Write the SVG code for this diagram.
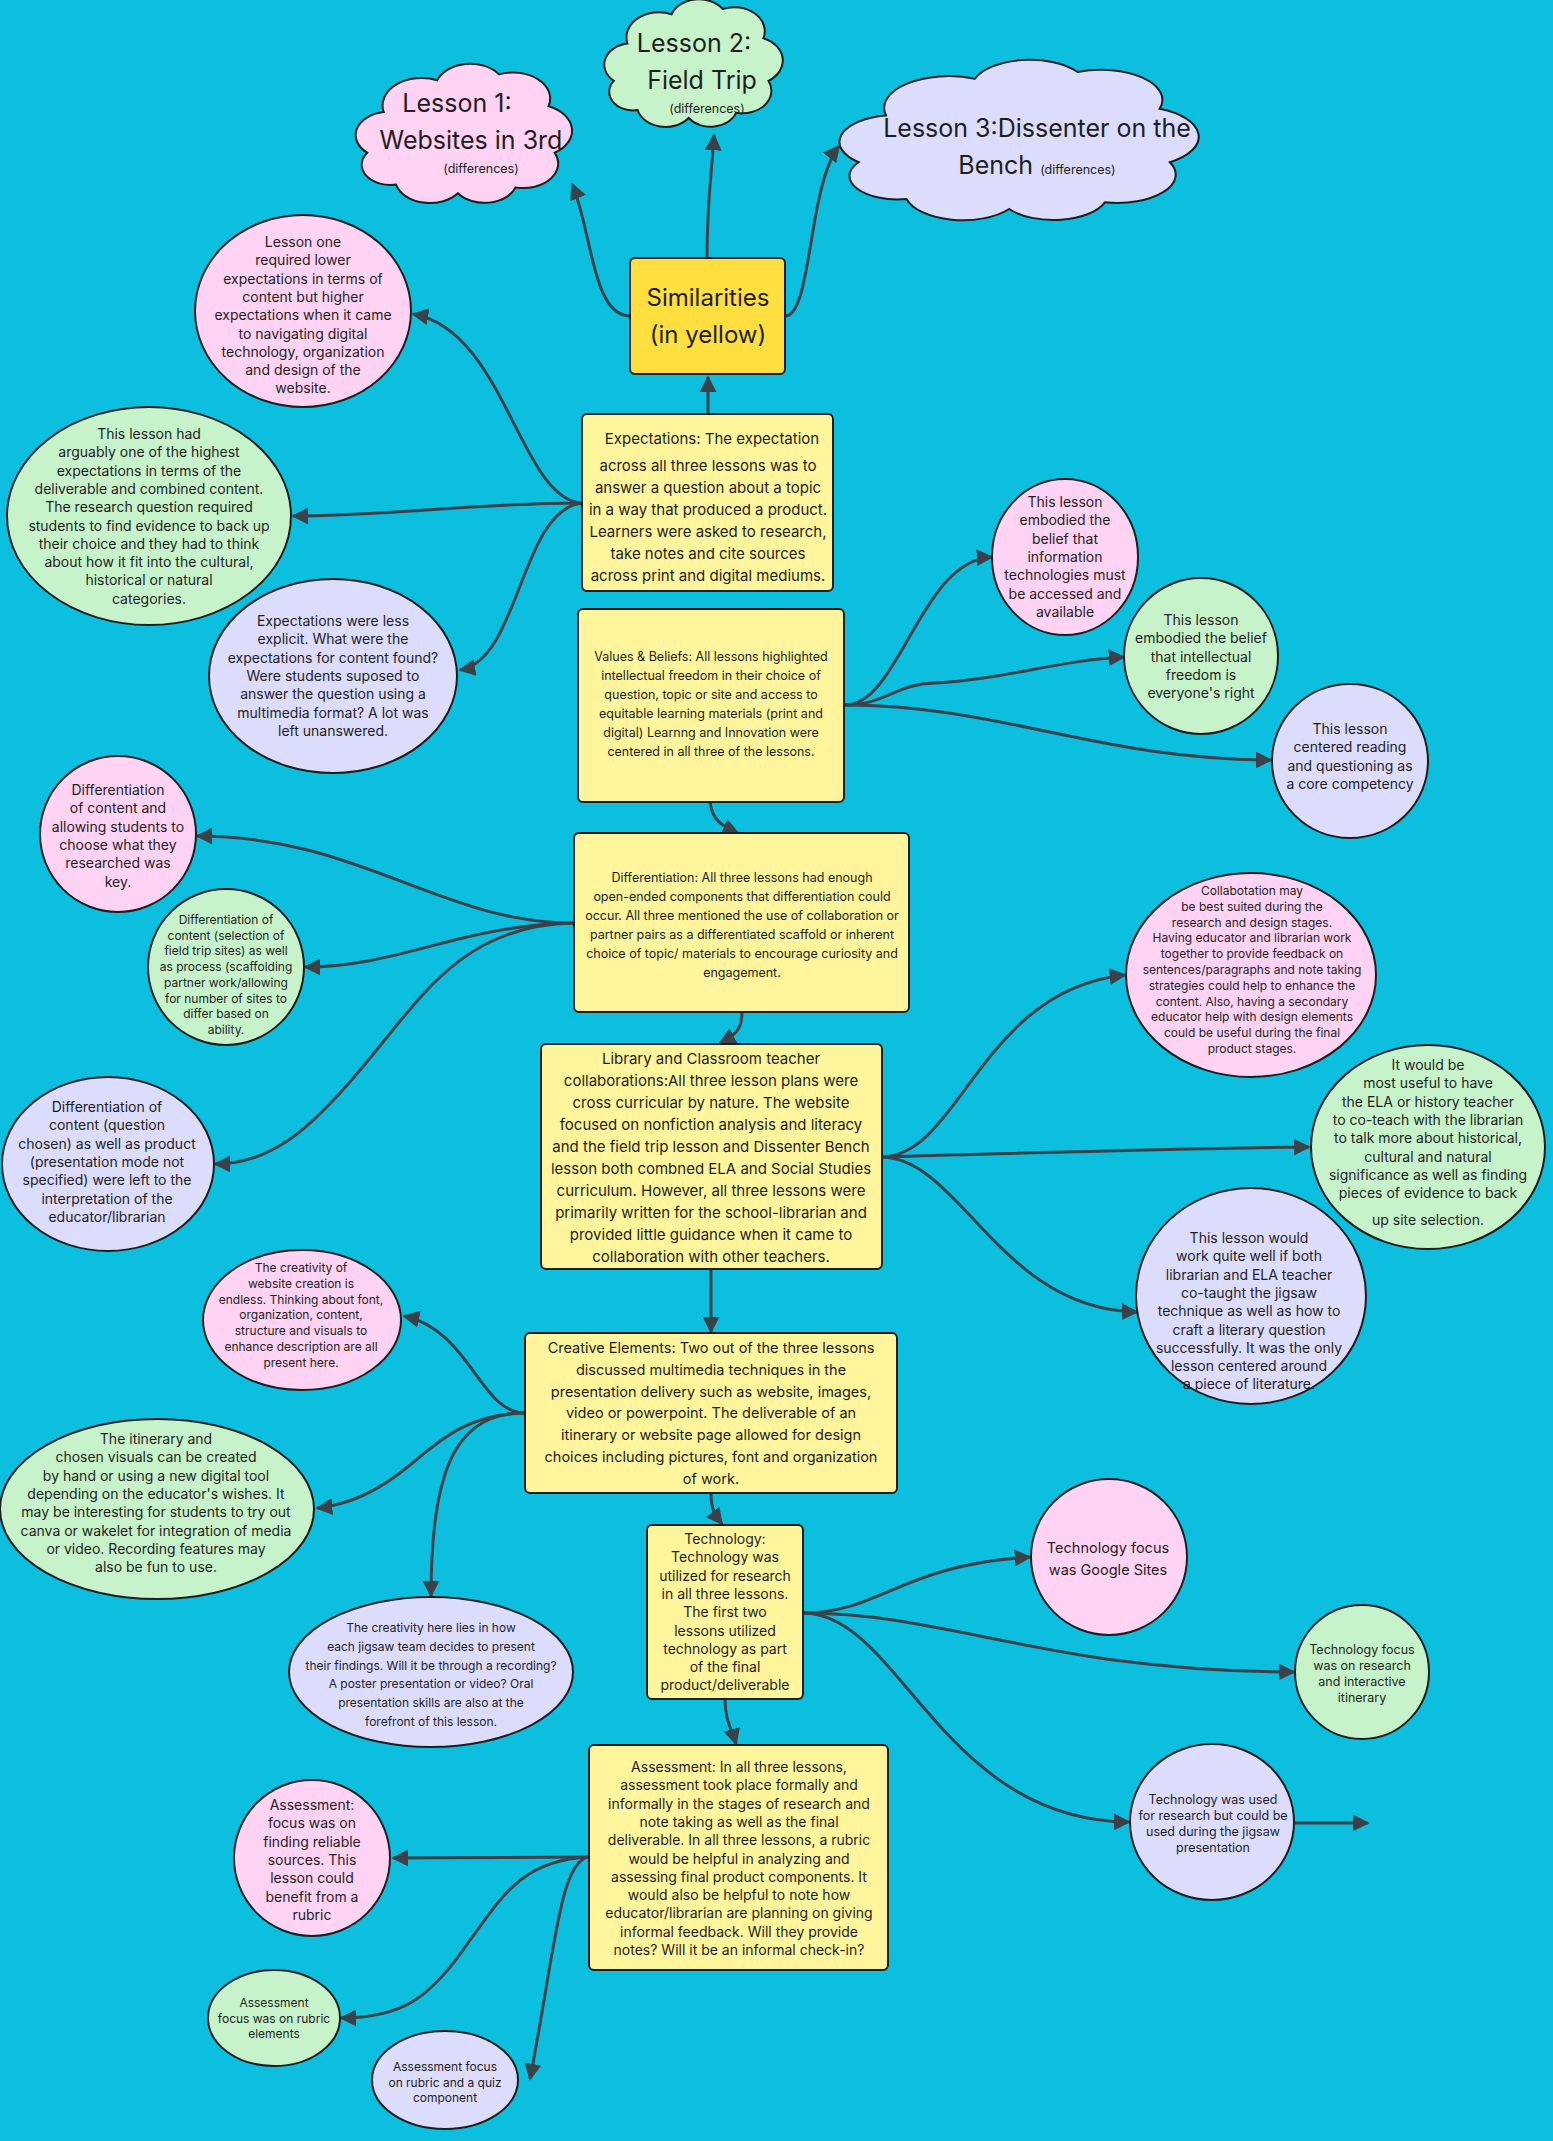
<svg xmlns="http://www.w3.org/2000/svg" xmlns:xlink="http://www.w3.org/1999/xlink" width="1553" height="2141" viewBox="0 0 1553 2141">
<style>
text{font-family:Inter,"Liberation Sans",Arial,sans-serif;fill:#1e1e1e;text-anchor:middle}
.box{fill:#FFF59D;stroke:#1e1e1e;stroke-width:2}
.sim{fill:#FFDF3F;stroke:#1e1e1e;stroke-width:2}
.pk{fill:#FFD3F3;stroke:#1e1e1e;stroke-width:2}
.gr{fill:#C6F3CA;stroke:#1e1e1e;stroke-width:2}
.lv{fill:#DCDCFD;stroke:#1e1e1e;stroke-width:2}
.c{fill:none;stroke:#3A4148;stroke-width:3;marker-end:url(#ah)}
.t25{font-size:25px}.t24{font-size:24px}.t15{font-size:15px}.t145{font-size:14.5px}.t14{font-size:14px}.t125{font-size:12.5px}.t12{font-size:12px}.t11{font-size:12.5px}
</style>
<defs>
<marker id="ah" viewBox="0 0 10 10" refX="9" refY="5" markerWidth="17" markerHeight="17" markerUnits="userSpaceOnUse" orient="auto"><path d="M0,0 L10,5 L0,10 Z" fill="#3A4148"/></marker>
<path id="cloud" vector-effect="non-scaling-stroke" d="M18,88 A14,14 0 0 1 4,66 A16,16 0 0 1 12,38 A19,19 0 0 1 38,16 A17,17 0 0 1 68,12 A18,18 0 0 1 92,34 A18,18 0 0 1 95,66 A17,17 0 0 1 76,90 A16,16 0 0 1 48,94 A17,17 0 0 1 18,88 Z"/>
</defs>
<rect width="1553" height="2141" fill="#0CBFDF"/>

<g id="connectors">
<path class="c" d="M630,316 C592,316 592,230 572,184"/>
<path class="c" d="M707,258 C707,200 712,170 714,135"/>
<path class="c" d="M785,316 C812,316 808,185 839,146"/>
<path class="c" d="M708,414 L708,377"/>
<path class="c" d="M582,503 C520,500 505,330 413,314"/>
<path class="c" d="M582,503 C480,503 380,516 293,516"/>
<path class="c" d="M582,503 C520,510 520,660 460,670"/>
<path class="c" d="M845,705 C900,705 920,560 992,557"/>
<path class="c" d="M845,705 C885,705 895,684 935,683 C1000,680 1060,660 1124,657"/>
<path class="c" d="M845,705 C1000,705 1100,760 1271,760"/>
<path class="c" d="M710,802 C712,820 722,826 738,833"/>
<path class="c" d="M574,923 C440,923 360,836 197,836"/>
<path class="c" d="M574,923 C460,925 400,967 305,967"/>
<path class="c" d="M574,923 C460,925 420,1000 360,1070 C310,1130 270,1164 215,1164"/>
<path class="c" d="M742,1012 C742,1030 735,1035 720,1043"/>
<path class="c" d="M881,1157 C960,1157 980,990 1125,975"/>
<path class="c" d="M881,1157 C1000,1154 1150,1149 1309,1147"/>
<path class="c" d="M881,1157 C960,1157 1000,1310 1137,1312"/>
<path class="c" d="M711,1269 L711,1332"/>
<path class="c" d="M525,1413 C480,1413 470,1330 404,1316"/>
<path class="c" d="M525,1413 C470,1413 440,1440 410,1465 C380,1490 350,1505 317,1508"/>
<path class="c" d="M525,1413 C460,1413 431,1460 431,1596"/>
<path class="c" d="M711,1493 C711,1510 715,1515 722,1524"/>
<path class="c" d="M803,1613 C880,1613 900,1565 1030,1557"/>
<path class="c" d="M803,1613 C950,1613 1050,1672 1294,1672"/>
<path class="c" d="M803,1613 C900,1613 940,1820 1129,1822"/>
<path class="c" d="M1295,1823 L1368,1823"/>
<path class="c" d="M725,1699 C725,1720 732,1730 736,1744"/>
<path class="c" d="M589,1857 L393,1858"/>
<path class="c" d="M589,1857 C520,1860 500,1900 470,1940 C430,2000 400,2018 341,2018"/>
<path class="c" d="M589,1857 C560,1860 555,1950 530,2079"/>
</g>

<g id="lesson1"><use xlink:href="#cloud" href="#cloud" class="pk" transform="translate(359,57) scale(2.06,1.45)"/>
<text class="t25" x="457" y="112">Lesson 1:</text><text class="t25" x="471" y="149">Websites in 3rd</text><text class="t11" x="481" y="173">(differences)</text></g>
<g id="lesson2"><use xlink:href="#cloud" href="#cloud" class="gr" transform="translate(607,-7) scale(1.70,1.33)"/>
<text class="t25" x="694" y="52">Lesson 2:</text><text class="t25" x="702" y="89">Field Trip</text><text class="t11" x="707" y="113">(differences)</text></g>
<g id="lesson3"><use xlink:href="#cloud" href="#cloud" class="lv" transform="translate(845,52) scale(3.42,1.67)"/>
<text class="t25" x="1037" y="137">Lesson 3:Dissenter on the</text><text class="t25" x="1037" y="174">Bench <tspan class="t11">(differences)</tspan></text></g>

<g id="similarities"><rect class="sim" x="630" y="258" width="155" height="116" rx="5"/>
<text class="t24" x="708" y="306">Similarities</text><text class="t24" x="708" y="343">(in yellow)</text></g>

<g id="expectations"><rect class="box" x="582" y="414" width="251" height="177" rx="5"/>
<text class="t15" x="708" y="444"><tspan x="712">Expectations: The expectation</tspan><tspan x="708" dy="27">across all three lessons was to</tspan><tspan x="708" dy="22">answer a question about a topic</tspan><tspan x="708" dy="22">in a way that produced a product.</tspan><tspan x="708" dy="22">Learners were asked to research,</tspan><tspan x="708" dy="22">take notes and cite sources</tspan><tspan x="708" dy="22">across print and digital mediums.</tspan></text></g>

<g id="exp-l1"><ellipse class="pk" cx="303" cy="311" rx="108" ry="96"/>
<text class="t14" x="303" y="247"><tspan x="303">Lesson one</tspan><tspan x="303" dy="18.3">required lower</tspan><tspan x="303" dy="18.3">expectations in terms of</tspan><tspan x="303" dy="18.3">content but higher</tspan><tspan x="303" dy="18.3">expectations when it came</tspan><tspan x="303" dy="18.3">to navigating digital</tspan><tspan x="303" dy="18.3">technology, organization</tspan><tspan x="303" dy="18.3">and design of the</tspan><tspan x="303" dy="18.3">website.</tspan></text></g>
<g id="exp-l2"><ellipse class="gr" cx="149" cy="516" rx="142" ry="109"/>
<text class="t14" x="149" y="439"><tspan x="149">This lesson had</tspan><tspan x="149" dy="18.3">arguably one of the highest</tspan><tspan x="149" dy="18.3">expectations in terms of the</tspan><tspan x="149" dy="18.3">deliverable and combined content.</tspan><tspan x="149" dy="18.3">The research question required</tspan><tspan x="149" dy="18.3">students to find evidence to back up</tspan><tspan x="149" dy="18.3">their choice and they had to think</tspan><tspan x="149" dy="18.3">about how it fit into the cultural,</tspan><tspan x="149" dy="18.3">historical or natural</tspan><tspan x="149" dy="18.3">categories.</tspan></text></g>
<g id="exp-l3"><ellipse class="lv" cx="333" cy="676" rx="124" ry="97"/>
<text class="t14" x="333" y="626"><tspan x="333">Expectations were less</tspan><tspan x="333" dy="18.3">explicit. What were the</tspan><tspan x="333" dy="18.3">expectations for content found?</tspan><tspan x="333" dy="18.3">Were students suposed to</tspan><tspan x="333" dy="18.3">answer the question using a</tspan><tspan x="333" dy="18.3">multimedia format? A lot was</tspan><tspan x="333" dy="18.3">left unanswered.</tspan></text></g>

<g id="values"><rect class="box" x="578" y="609" width="266" height="193" rx="5"/>
<text class="t125" x="711" y="660.5"><tspan x="711">Values &amp; Beliefs: All lessons highlighted</tspan><tspan x="711" dy="19">intellectual freedom in their choice of</tspan><tspan x="711" dy="19">question, topic or site and access to</tspan><tspan x="711" dy="19">equitable learning materials (print and</tspan><tspan x="711" dy="19">digital) Learnng and Innovation were</tspan><tspan x="711" dy="19">centered in all three of the lessons.</tspan></text></g>

<g id="val-l1"><ellipse class="pk" cx="1065" cy="557" rx="73" ry="78"/>
<text class="t14" x="1065" y="507"><tspan x="1065">This lesson</tspan><tspan x="1065" dy="18.3">embodied the</tspan><tspan x="1065" dy="18.3">belief that</tspan><tspan x="1065" dy="18.3">information</tspan><tspan x="1065" dy="18.3">technologies must</tspan><tspan x="1065" dy="18.3">be accessed and</tspan><tspan x="1065" dy="18.3">available</tspan></text></g>
<g id="val-l2"><ellipse class="gr" cx="1201" cy="656" rx="77" ry="78"/>
<text class="t14" x="1201" y="625"><tspan x="1201">This lesson</tspan><tspan x="1201" dy="18.3">embodied the belief</tspan><tspan x="1201" dy="18.3">that intellectual</tspan><tspan x="1201" dy="18.3">freedom is</tspan><tspan x="1201" dy="18.3">everyone's right</tspan></text></g>
<g id="val-l3"><ellipse class="lv" cx="1350" cy="761" rx="78" ry="77"/>
<text class="t14" x="1350" y="734"><tspan x="1350">This lesson</tspan><tspan x="1350" dy="18.3">centered reading</tspan><tspan x="1350" dy="18.3">and questioning as</tspan><tspan x="1350" dy="18.3">a core competency</tspan></text></g>

<g id="differentiation"><rect class="box" x="574" y="833" width="335" height="179" rx="5"/>
<text class="t125" x="742" y="881.5"><tspan x="742">Differentiation: All three lessons had enough</tspan><tspan x="742" dy="19">open-ended components that differentiation could</tspan><tspan x="742" dy="19">occur. All three mentioned the use of collaboration or</tspan><tspan x="742" dy="19">partner pairs as a differentiated scaffold or inherent</tspan><tspan x="742" dy="19">choice of topic/ materials to encourage curiosity and</tspan><tspan x="742" dy="19">engagement.</tspan></text></g>

<g id="dif-l1"><ellipse class="pk" cx="118" cy="834" rx="78" ry="78"/>
<text class="t14" x="118" y="795"><tspan x="118">Differentiation</tspan><tspan x="118" dy="18.3">of content and</tspan><tspan x="118" dy="18.3">allowing students to</tspan><tspan x="118" dy="18.3">choose what they</tspan><tspan x="118" dy="18.3">researched was</tspan><tspan x="118" dy="18.3">key.</tspan></text></g>
<g id="dif-l2"><ellipse class="gr" cx="226" cy="967" rx="78" ry="78"/>
<text class="t12" x="226" y="924"><tspan x="226">Differentiation of</tspan><tspan x="226" dy="15.7">content (selection of</tspan><tspan x="226" dy="15.7">field trip sites) as well</tspan><tspan x="226" dy="15.7">as process (scaffolding</tspan><tspan x="226" dy="15.7">partner work/allowing</tspan><tspan x="226" dy="15.7">for number of sites to</tspan><tspan x="226" dy="15.7">differ based on</tspan><tspan x="226" dy="15.7">ability.</tspan></text></g>
<g id="dif-l3"><ellipse class="lv" cx="108" cy="1164" rx="106" ry="87"/>
<text class="t14" x="107" y="1112"><tspan x="107">Differentiation of</tspan><tspan x="107" dy="18.3">content (question</tspan><tspan x="107" dy="18.3">chosen) as well as product</tspan><tspan x="107" dy="18.3">(presentation mode not</tspan><tspan x="107" dy="18.3">specified) were left to the</tspan><tspan x="107" dy="18.3">interpretation of the</tspan><tspan x="107" dy="18.3">educator/librarian</tspan></text></g>

<g id="library"><rect class="box" x="541" y="1044" width="341" height="225" rx="5"/>
<text class="t15" x="711" y="1063.5"><tspan x="711">Library and Classroom teacher</tspan><tspan x="711" dy="22">collaborations:All three lesson plans were</tspan><tspan x="711" dy="22">cross curricular by nature. The website</tspan><tspan x="711" dy="22">focused on nonfiction analysis and literacy</tspan><tspan x="711" dy="22">and the field trip lesson and Dissenter Bench</tspan><tspan x="711" dy="22">lesson both combned ELA and Social Studies</tspan><tspan x="711" dy="22">curriculum. However, all three lessons were</tspan><tspan x="711" dy="22">primarily written for the school-librarian and</tspan><tspan x="711" dy="22">provided little guidance when it came to</tspan><tspan x="711" dy="22">collaboration with other teachers.</tspan></text></g>

<g id="lib-l1"><ellipse class="pk" cx="1251" cy="975" rx="125" ry="102"/>
<text class="t12" x="1252" y="895"><tspan x="1252">Collabotation may</tspan><tspan x="1252" dy="15.8">be best suited during the</tspan><tspan x="1252" dy="15.8">research and design stages.</tspan><tspan x="1252" dy="15.8">Having educator and librarian work</tspan><tspan x="1252" dy="15.8">together to provide feedback on</tspan><tspan x="1252" dy="15.8">sentences/paragraphs and note taking</tspan><tspan x="1252" dy="15.8">strategies could help to enhance the</tspan><tspan x="1252" dy="15.8">content. Also, having a secondary</tspan><tspan x="1252" dy="15.8">educator help with design elements</tspan><tspan x="1252" dy="15.8">could be useful during the final</tspan><tspan x="1252" dy="15.8">product stages.</tspan></text></g>
<g id="lib-l2"><ellipse class="gr" cx="1428" cy="1147" rx="117" ry="102"/>
<text class="t14" x="1428" y="1070"><tspan x="1428">It would be</tspan><tspan x="1428" dy="18.3">most useful to have</tspan><tspan x="1428" dy="18.3">the ELA or history teacher</tspan><tspan x="1428" dy="18.3">to co-teach with the librarian</tspan><tspan x="1428" dy="18.3">to talk more about historical,</tspan><tspan x="1428" dy="18.3">cultural and natural</tspan><tspan x="1428" dy="18.3">significance as well as finding</tspan><tspan x="1428" dy="18.3">pieces of evidence to back</tspan><tspan x="1428" dy="27">up site selection.</tspan></text></g>
<g id="lib-l3"><ellipse class="lv" cx="1251" cy="1296" rx="115" ry="108"/>
<text class="t14" x="1249" y="1243"><tspan x="1249">This lesson would</tspan><tspan x="1249" dy="18.3">work quite well if both</tspan><tspan x="1249" dy="18.3">librarian and ELA teacher</tspan><tspan x="1249" dy="18.3">co-taught the jigsaw</tspan><tspan x="1249" dy="18.3">technique as well as how to</tspan><tspan x="1249" dy="18.3">craft a literary question</tspan><tspan x="1249" dy="18.3">successfully. It was the only</tspan><tspan x="1249" dy="18.3">lesson centered around</tspan><tspan x="1249" dy="18.3">a piece of literature.</tspan></text></g>

<g id="creative"><rect class="box" x="525" y="1333" width="372" height="160" rx="5"/>
<text class="t145" x="711" y="1353"><tspan x="711">Creative Elements: Two out of the three lessons</tspan><tspan x="711" dy="21.8">discussed multimedia techniques in the</tspan><tspan x="711" dy="21.8">presentation delivery such as website, images,</tspan><tspan x="711" dy="21.8">video or powerpoint. The deliverable of an</tspan><tspan x="711" dy="21.8">itinerary or website page allowed for design</tspan><tspan x="711" dy="21.8">choices including pictures, font and organization</tspan><tspan x="711" dy="21.8">of work.</tspan></text></g>

<g id="cre-l1"><ellipse class="pk" cx="302" cy="1320" rx="99" ry="70"/>
<text class="t12" x="301" y="1272"><tspan x="301">The creativity of</tspan><tspan x="301" dy="15.8">website creation is</tspan><tspan x="301" dy="15.8">endless. Thinking about font,</tspan><tspan x="301" dy="15.8">organization, content,</tspan><tspan x="301" dy="15.8">structure and visuals to</tspan><tspan x="301" dy="15.8">enhance description are all</tspan><tspan x="301" dy="15.8">present here.</tspan></text></g>
<g id="cre-l2"><ellipse class="gr" cx="157" cy="1509" rx="157" ry="90"/>
<text class="t14" x="156" y="1444"><tspan x="156">The itinerary and</tspan><tspan x="156" dy="18.3">chosen visuals can be created</tspan><tspan x="156" dy="18.3">by hand or using a new digital tool</tspan><tspan x="156" dy="18.3">depending on the educator's wishes. It</tspan><tspan x="156" dy="18.3">may be interesting for students to try out</tspan><tspan x="156" dy="18.3">canva or wakelet for integration of media</tspan><tspan x="156" dy="18.3">or video. Recording features may</tspan><tspan x="156" dy="18.3">also be fun to use.</tspan></text></g>
<g id="cre-l3"><ellipse class="lv" cx="431" cy="1672" rx="142" ry="75"/>
<text class="t12" x="431" y="1632"><tspan x="431">The creativity here lies in how</tspan><tspan x="431" dy="18.8">each jigsaw team decides to present</tspan><tspan x="431" dy="18.8">their findings. Will it be through a recording?</tspan><tspan x="431" dy="18.8">A poster presentation or video? Oral</tspan><tspan x="431" dy="18.8">presentation skills are also at the</tspan><tspan x="431" dy="18.8">forefront of this lesson.</tspan></text></g>

<g id="technology"><rect class="box" x="647" y="1525" width="156" height="174" rx="5"/>
<text class="t14" x="725" y="1544"><tspan x="725">Technology:</tspan><tspan x="725" dy="18.3">Technology was</tspan><tspan x="725" dy="18.3">utilized for research</tspan><tspan x="725" dy="18.3">in all three lessons.</tspan><tspan x="725" dy="18.3">The first two</tspan><tspan x="725" dy="18.3">lessons utilized</tspan><tspan x="725" dy="18.3">technology as part</tspan><tspan x="725" dy="18.3">of the final</tspan><tspan x="725" dy="18.3">product/deliverable</tspan></text></g>

<g id="tec-l1"><ellipse class="pk" cx="1109" cy="1557" rx="78" ry="78"/>
<text class="t145" x="1108" y="1553"><tspan x="1108">Technology focus</tspan><tspan x="1108" dy="22">was Google Sites</tspan></text></g>
<g id="tec-l2"><ellipse class="gr" cx="1362" cy="1672" rx="67" ry="67"/>
<text class="t125" x="1362" y="1653.5"><tspan x="1362">Technology focus</tspan><tspan x="1362" dy="16">was on research</tspan><tspan x="1362" dy="16">and interactive</tspan><tspan x="1362" dy="16">itinerary</tspan></text></g>
<g id="tec-l3"><ellipse class="lv" cx="1212" cy="1822" rx="82" ry="78"/>
<text class="t125" x="1213" y="1803.5"><tspan x="1213">Technology was used</tspan><tspan x="1213" dy="16">for research but could be</tspan><tspan x="1213" dy="16">used during the jigsaw</tspan><tspan x="1213" dy="16">presentation</tspan></text></g>

<g id="assessment"><rect class="box" x="589" y="1745" width="299" height="225" rx="5"/>
<text class="t14" x="739" y="1772"><tspan x="739">Assessment: In all three lessons,</tspan><tspan x="739" dy="18.3">assessment took place formally and</tspan><tspan x="739" dy="18.3">informally in the stages of research and</tspan><tspan x="739" dy="18.3">note taking as well as the final</tspan><tspan x="739" dy="18.3">deliverable. In all three lessons, a rubric</tspan><tspan x="739" dy="18.3">would be helpful in analyzing and</tspan><tspan x="739" dy="18.3">assessing final product components. It</tspan><tspan x="739" dy="18.3">would also be helpful to note how</tspan><tspan x="739" dy="18.3">educator/librarian are planning on giving</tspan><tspan x="739" dy="18.3">informal feedback. Will they provide</tspan><tspan x="739" dy="18.3">notes? Will it be an informal check-in?</tspan></text></g>

<g id="ass-l1"><ellipse class="pk" cx="312" cy="1858" rx="78" ry="78"/>
<text class="t14" x="312" y="1810"><tspan x="312">Assessment:</tspan><tspan x="312" dy="18.3">focus was on</tspan><tspan x="312" dy="18.3">finding reliable</tspan><tspan x="312" dy="18.3">sources. This</tspan><tspan x="312" dy="18.3">lesson could</tspan><tspan x="312" dy="18.3">benefit from a</tspan><tspan x="312" dy="18.3">rubric</tspan></text></g>
<g id="ass-l2"><ellipse class="gr" cx="274" cy="2018" rx="66" ry="48"/>
<text class="t12" x="274" y="2007"><tspan x="274">Assessment</tspan><tspan x="274" dy="15.5">focus was on rubric</tspan><tspan x="274" dy="15.5">elements</tspan></text></g>
<g id="ass-l3"><ellipse class="lv" cx="445" cy="2080" rx="73" ry="49"/>
<text class="t12" x="445" y="2071"><tspan x="445">Assessment focus</tspan><tspan x="445" dy="15.5">on rubric and a quiz</tspan><tspan x="445" dy="15.5">component</tspan></text></g>
</svg>
